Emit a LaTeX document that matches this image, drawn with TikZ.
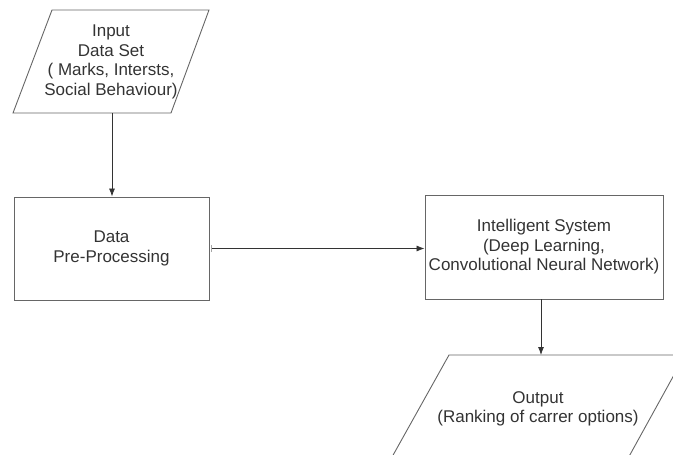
\documentclass[tikz,border=0pt]{standalone}
\usepackage{fontspec}
\setmainfont{Liberation Sans}
\usetikzlibrary{arrows.meta}
\begin{document}
\begin{tikzpicture}[x=1pt,y=-1pt,
  shapeline/.style={draw=black!60, line width=0.9pt},
  lbl/.style={align=center, text=black!80, font=\fontsize{17}{19.5}\selectfont, inner sep=0pt},
  procbox/.style={shapeline, rectangle, inner sep=0pt, align=center, text=black!80, font=\fontsize{17}{19.5}\selectfont},
  conn/.style={draw=black!80, line width=0.8pt, -{Latex[length=8pt,width=6pt]}}]
\useasboundingbox (0,0) rectangle (673,455);
\clip (0,0) rectangle (673,455);
% input parallelogram
\draw[shapeline] (52,10) -- (209,10) -- (171,113) -- (13,113) -- cycle;
\node[lbl] (in) at (111,62) {Input\\Data Set\\( Marks, Intersts,\\Social Behaviour)};
\coordinate (inbot) at (112,113);
% data pre-processing
\node[procbox, minimum width=195pt, minimum height=103pt] (dp) at (111.5,248.5) {Data\\Pre-Processing};
% intelligent system
\node[procbox, minimum width=238pt, minimum height=104pt] (is) at (544,247) {Intelligent System\\(Deep Learning,\\Convolutional Neural Network)};
% output parallelogram
\draw[shapeline] (449,355) -- (685,355) -- (605,500) -- (368,500) -- cycle;
\node[lbl] (out) at (538,409) {Output\\(Ranking of carrer options)};
\coordinate (outtop) at (541,355);
% connectors
\draw[conn] (inbot) -- (inbot |- dp.north);
\draw[draw=black!80, line width=0.8pt, {Bar[width=7pt,color=black!35]}-{Latex[length=8pt,width=6pt]}] ([xshift=2pt]dp.east) -- (dp.east -| is.west);
\draw[conn] (outtop |- is.south) -- (outtop);
\end{tikzpicture}
\end{document}
